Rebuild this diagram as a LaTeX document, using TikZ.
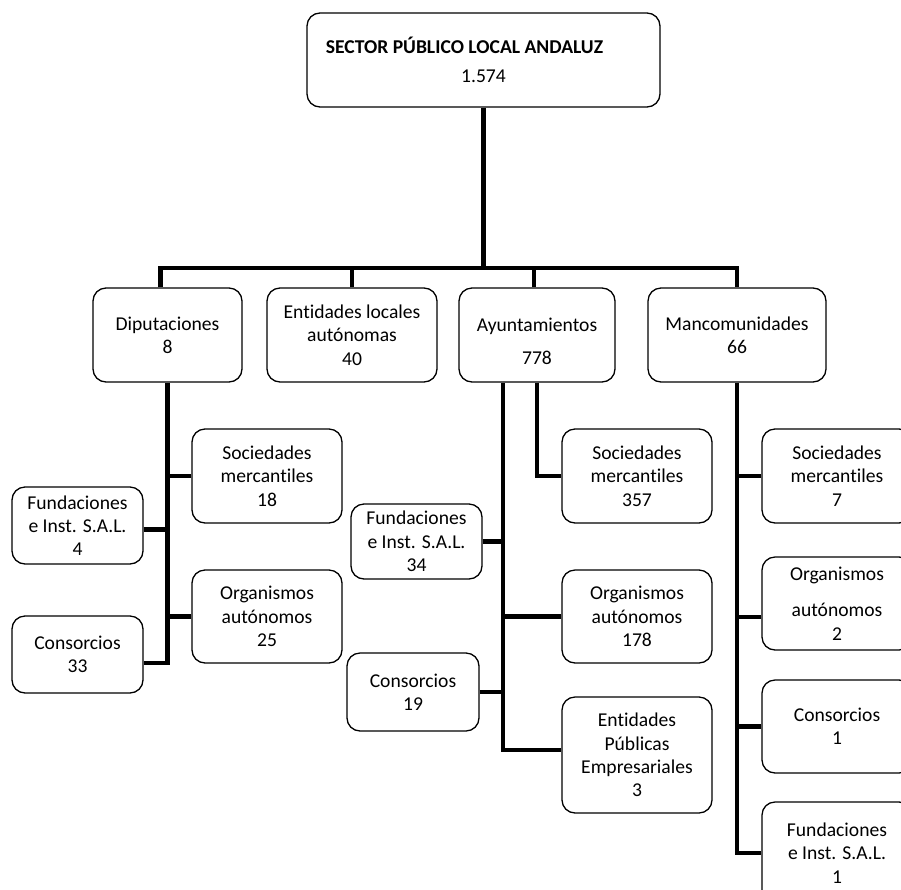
\documentclass[tikz,border=0pt]{standalone}
\usepackage{fontspec}
\setmainfont{Carlito}[Ligatures=NoCommon]
\usepackage{tikz}

\begin{document}
\begin{tikzpicture}[x=1pt,y=-1pt,
		caja/.style={draw, rounded corners=13pt, line width=1.3pt, align=center, inner sep=0pt, font=\fontsize{19.6}{23.3}\selectfont},
		rama/.style={line width=4.5pt}]
			\useasboundingbox (0,0) rectangle (901,889);
			\clip (0,0) rectangle (901,889);
			\node[caja, minimum width=353, minimum height=94] (sector) at (483.5,60) {\textbf{SECTOR PÚBLICO LOCAL ANDALUZ}\hspace*{38pt}\\[6pt]1.574};
			\node[caja, minimum width=149, minimum height=94] (dip) at (167.5,335) {Diputaciones\\8};
			\node[caja, minimum width=170, minimum height=94] (ela) at (352,335) {Entidades locales\\autónomas\\40};
			\node[caja, minimum width=156, minimum height=94] (ayu) at (537,335) {\rule{0pt}{26pt}Ayuntamientos\\[10pt]778};
			\node[caja, minimum width=178, minimum height=94] (man) at (737,335) {Mancomunidades\\66};
			\node[caja, minimum width=150, minimum height=94] (dipsoc) at (267,476) {Sociedades\\mercantiles\\18};
			\node[caja, minimum width=131, minimum height=77] (dipfun) at (77.5,525.5) {Fundaciones\\e Inst. S.A.L.\\4};
			\node[caja, minimum width=150, minimum height=93] (diporg) at (267,616.5) {Organismos\\autónomos\\25};
			\node[caja, minimum width=131, minimum height=77] (dipcon) at (77.5,654.5) {Consorcios\\33};
			\node[caja, minimum width=150, minimum height=94] (ayusoc) at (637,476) {Sociedades\\mercantiles\\357};
			\node[caja, minimum width=131, minimum height=75] (ayufun) at (416.5,541.5) {Fundaciones\\e Inst. S.A.L.\\34};
			\node[caja, minimum width=150, minimum height=93] (ayuorg) at (637,616.5) {Organismos\\autónomos\\178};
			\node[caja, minimum width=132, minimum height=78] (ayucon) at (413,692) {Consorcios\\19};
			\node[caja, minimum width=150, minimum height=116] (ayuepe) at (637,755) {Entidades\\Públicas\\Empresariales\\3};
			\node[caja, minimum width=150, minimum height=94] (mansoc) at (837,476) {Sociedades\\mercantiles\\7};
			\node[caja, minimum width=150, minimum height=93] (manorg) at (837,603.5) {Organismos\\[13pt]autónomos\\2};
			\node[caja, minimum width=150, minimum height=93] (mancon) at (837,726.5) {Consorcios\\1};
			\node[caja, minimum width=150, minimum height=102] (manfun) at (837,853) {Fundaciones\\e Inst. S.A.L.\\1};
			\coordinate (barra) at (0,268);
			\coordinate (troncoA) at ([xshift=-34]ayu.south);
			\draw[rama] (sector.south) -- (sector.south |- barra);
			\draw[rama] ([xshift=-7]dip.north) -- ([xshift=-7]dip.north |- barra) -| (man.north);
			\draw[rama] (ela.north) -- (ela.north |- barra);
			\draw[rama] ([xshift=-3]ayu.north) -- ([xshift=-3]ayu.north |- barra);
			\draw[rama] (dip.south) |- ([yshift=-8.5]dipcon.east);
			\draw[rama] (dipsoc.west) -- (dipsoc.west -| dip.south);
			\draw[rama] ([yshift=-4]dipfun.east) -- ([yshift=-4]dipfun.east -| dip.south);
			\draw[rama] (diporg.west) -- (diporg.west -| dip.south);
			\draw[rama] (troncoA) |- ([yshift=5]ayuepe.west);
			\draw[rama] (ayu.south) |- (ayusoc.west);
			\draw[rama] (ayufun.east) -- (ayufun.east -| troncoA);
			\draw[rama] (ayuorg.west) -- (ayuorg.west -| troncoA);
			\draw[rama] (ayucon.east) -- (ayucon.east -| troncoA);
			\draw[rama] (man.south) |- (manfun.west);
			\draw[rama] (mansoc.west) -- (mansoc.west -| man.south);
			\draw[rama] ([yshift=-13.5]manorg.west) -- ([yshift=-13.5]manorg.west -| man.south);
			\draw[rama] (mancon.west) -- (mancon.west -| man.south);
		\end{tikzpicture}
\end{document}
